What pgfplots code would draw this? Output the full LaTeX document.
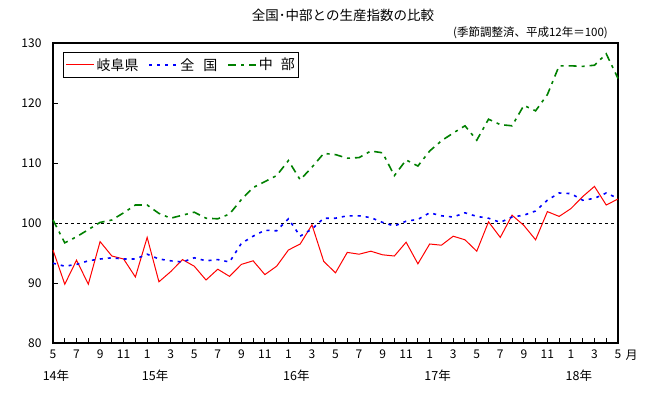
\documentclass[border=0pt]{standalone}
\usepackage{fontspec}
\setmainfont{Noto Sans CJK JP}
\usepackage{pgfplots}
\pgfplotsset{compat=1.18}
\usetikzlibrary{calc}
\definecolor{gred}{RGB}{255,0,0}
\definecolor{gblue}{RGB}{0,0,255}
\definecolor{ggreen}{RGB}{0,128,0}
\begin{document}
\begin{tikzpicture}
\path[use as bounding box] (-53pt,-49pt) rectangle (602pt,343pt);
\begin{axis}[
 at={(0pt,0pt)}, anchor=south west,
 scale only axis, width=565pt, height=300pt,
 xmin=0, xmax=48, ymin=80, ymax=130,
 clip=false,
 axis line style={line width=1.2pt},
 tick align=inside,
 xtick pos=bottom, ytick pos=left,
 xtick={0,2,...,48},
 xticklabels={5,7,9,11,1,3,5,7,9,11,1,3,5,7,9,11,1,3,5,7,9,11,1,3,5},
 minor x tick num=1,
 ytick={80,90,...,130},
 major tick length=5pt, minor tick length=5pt,
 tick style={black, line width=1pt},
 ticklabel style={font=\fontsize{12}{12}\selectfont},
 /pgf/number format/assume math mode=true,
 yticklabel style={xshift=-8pt},
 xticklabel style={yshift=-3pt},
 legend columns=3,
 legend style={at={(0.018,0.971)}, anchor=north west, draw=black, line width=1pt,
   inner xsep=2pt, inner ysep=4pt, nodes={inner sep=2pt},
   font=\fontsize{14}{14}\selectfont,
   /tikz/every even column/.append style={column sep=8pt}},
 legend image code/.code={\draw[#1] (0pt,0pt) -- (28pt,0pt);},
]
\addplot[forget plot, black, line width=1pt, dash pattern=on 3pt off 3pt] coordinates {(0,100) (48,100)};
\addplot[gred, line width=1pt] table {
x y
0 95.5
1 89.8
2 93.8
3 89.8
4 96.9
5 94.5
6 94.0
7 91.0
8 97.6
9 90.2
10 91.9
11 93.9
12 92.8
13 90.5
14 92.3
15 91.1
16 93.1
17 93.7
18 91.4
19 92.8
20 95.5
21 96.5
22 99.7
23 93.6
24 91.7
25 95.1
26 94.8
27 95.3
28 94.7
29 94.5
30 96.8
31 93.2
32 96.5
33 96.3
34 97.8
35 97.2
36 95.3
37 100.2
38 97.6
39 101.3
40 99.6
41 97.2
42 101.9
43 101.1
44 102.4
45 104.4
46 106.1
47 103.0
48 104.0
};
\addlegendentry{岐阜県}
\addplot[gblue, line width=1.6pt, dash pattern=on 3pt off 5pt] table {
x y
0 93.3
1 92.8
2 93.1
3 93.7
4 94.0
5 94.2
6 94.0
7 94.0
8 94.8
9 94.0
10 93.7
11 93.5
12 94.2
13 93.7
14 93.9
15 93.5
16 96.6
17 97.8
18 98.8
19 98.7
20 100.7
21 97.8
22 99.0
23 100.8
24 100.8
25 101.2
26 101.2
27 100.9
28 100.1
29 99.5
30 100.3
31 100.6
32 101.7
33 101.2
34 101.0
35 101.7
36 101.1
37 100.8
38 100.1
39 101.0
40 101.3
41 102.0
42 103.8
43 105.0
44 104.9
45 103.8
46 104.1
47 105.0
48 104.1
};
\addlegendentry{全\hspace{9pt}国}
\addplot[ggreen, line width=1.6pt, dash pattern=on 8pt off 5pt on 3pt off 5pt] table {
x y
0 100.5
1 96.7
2 97.7
3 98.9
4 100.1
5 100.5
6 101.7
7 103.0
8 103.0
9 101.6
10 100.8
11 101.3
12 101.8
13 100.8
14 100.7
15 101.5
16 103.9
17 105.9
18 106.9
19 107.9
20 110.4
21 107.2
22 109.3
23 111.6
24 111.4
25 110.8
26 110.9
27 112.0
28 111.7
29 107.9
30 110.5
31 109.5
32 112.0
33 113.7
34 115.0
35 116.2
36 113.8
37 117.3
38 116.4
39 116.2
40 119.6
41 118.7
42 121.4
43 126.2
44 126.2
45 126.1
46 126.3
47 128.2
48 124.1
};
\addlegendentry{中\hspace{8pt}部}
\begin{scope}[every node/.style={font=\fontsize{12.5}{12.5}\selectfont}]
\node at (axis cs:0,80) [yshift=-33pt, xshift=3pt] {14年};
\node at (axis cs:8,80) [yshift=-33pt, xshift=8pt] {15年};
\node at (axis cs:20,80) [yshift=-33pt, xshift=8pt] {16年};
\node at (axis cs:32,80) [yshift=-33pt, xshift=8pt] {17年};
\node at (axis cs:44,80) [yshift=-33pt, xshift=8pt] {18年};
\node[anchor=west, font=\fontsize{12}{12}\selectfont] at (axis cs:48,80) [yshift=-12pt, xshift=4pt] {月};
\end{scope}
\end{axis}
\node[font=\fontsize{13.5}{13.5}\selectfont] at (290pt,328pt) {全国･中部との生産指数の比較};
\node[anchor=east, font=\fontsize{11.5}{11.5}\selectfont, inner sep=0pt] at (555pt,310pt) {(季節調整済、平成12年＝100)};
\end{tikzpicture}
\end{document}
